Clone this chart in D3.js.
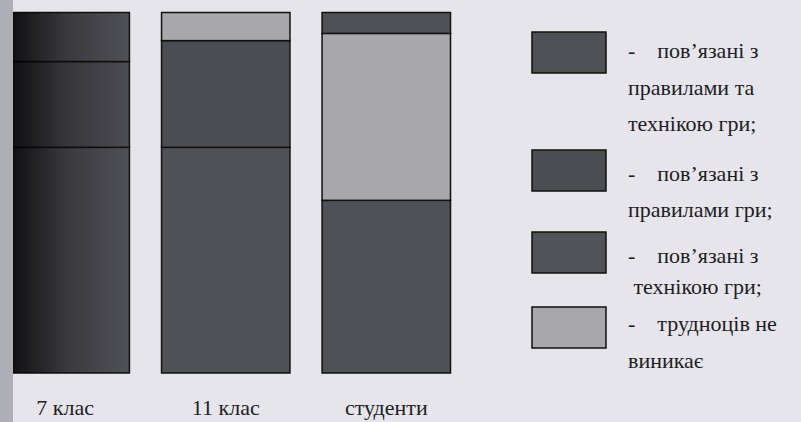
<!DOCTYPE html>
<html><head><meta charset="utf-8">
<script src="https://cdn.jsdelivr.net/npm/d3@7"></script>
<style>
html,body{margin:0;padding:0;background:#e5e5eb;}
svg{display:block;}
text{font-family:"Liberation Serif","Times New Roman","DejaVu Serif",serif;}
</style></head>
<body>
<svg id="chart" width="801" height="422"></svg>
<script>
// ---- data ----
const categories = ["7 клас", "11 клас", "студенти"];
const seriesNames = [
  "пов’язані з правилами та технікою гри",
  "пов’язані з правилами гри",
  "трудноців не виникає",
  "пов’язані з технікою гри"
];
const rulesAndTechnique = [62.6, 62.6, 47.9];
const rulesOnly        = [23.8, 29.6, 0];
const noDifficulty     = [0, 7.8, 46.3];
const techniqueOnly    = [13.6, 0, 5.8];
const legendLines = [
  ["-    пов’язані з", "правилами та", "технікою гри;"],
  ["-    пов’язані з", "правилами гри;"],
  ["-    пов’язані з", " технікою гри;"],
  ["-    трудноців не", "виникає"]
];

const seriesValues = [rulesAndTechnique, rulesOnly, noDifficulty, techniqueOnly];
const colors = ["#505057", "#4c4c53", "#a7a7ac", "#505057"];
const legendColors = ["#505057", "#4c4c53", "#525259", "#a7a7ac"];

const svg = d3.select("#chart");
const defs = svg.append("defs");
const g1 = defs.append("linearGradient").attr("id","shade").attr("x1","0").attr("x2","1").attr("y1","0").attr("y2","0");
g1.append("stop").attr("offset","0").attr("stop-color","#000").attr("stop-opacity",0.95);
g1.append("stop").attr("offset","0.12").attr("stop-color","#000").attr("stop-opacity",0.75);
g1.append("stop").attr("offset","0.5").attr("stop-color","#000").attr("stop-opacity",0.3);
g1.append("stop").attr("offset","1").attr("stop-color","#000").attr("stop-opacity",0);

const table = categories.map((c, i) => {
  const o = {cat: c};
  seriesNames.forEach((s, k) => o[s] = seriesValues[k][i]);
  return o;
});
const stack = d3.stack().keys(seriesNames)(table);

const x = d3.scaleBand().domain(categories).range([1, 450.5]).paddingInner(0.2).paddingOuter(0);
const y = d3.scaleLinear().domain([0, 100]).range([373, 12.5]);

const layers = svg.append("g").selectAll("g").data(stack).join("g")
  .attr("fill", (d, i) => colors[i]);
layers.selectAll("rect").data(d => d.filter(v => v[1] - v[0] > 0)).join("rect")
  .attr("x", d => x(d.data.cat))
  .attr("width", x.bandwidth())
  .attr("y", d => y(d[1]))
  .attr("height", d => y(d[0]) - y(d[1]))
  .attr("stroke", "#111")
  .attr("stroke-width", 1.5);

// scan shading over the first bar and the page gutter
svg.append("rect").attr("x", x(categories[0])).attr("y", y(100)).attr("width", x.bandwidth())
  .attr("height", y(0) - y(100)).attr("fill", "url(#shade)");
svg.append("rect").attr("x", 0).attr("y", 0).attr("width", 13).attr("height", 422).attr("fill", "#aeaeb6");

// category axis
const axis = svg.append("g").attr("transform", "translate(0,373)")
  .call(d3.axisBottom(x).tickSize(0).tickPadding(0));
axis.select(".domain").remove();
axis.selectAll("text")
  .attr("dy", null).attr("y", 42)
  .attr("font-family", null)
  .attr("font-size", 22).attr("fill", "#222");

// legend
const legendTops = [32, 150, 232, 307];
const legendTextY = [[58, 95, 131], [181, 217], [263, 294], [331, 368]];
const lg = svg.append("g");
legendLines.forEach((lines, i) => {
  lg.append("rect").attr("x", 532).attr("y", legendTops[i]).attr("width", 74).attr("height", 41)
    .attr("fill", legendColors[i]).attr("stroke", "#111").attr("stroke-width", 1.5);
  lines.forEach((t, j) => {
    lg.append("text").attr("x", 628).attr("y", legendTextY[i][j])
      .attr("font-size", 22).attr("fill", "#1e1e22")
      .style("white-space", "pre")
      .text(t);
  });
});
</script>
</body></html>
